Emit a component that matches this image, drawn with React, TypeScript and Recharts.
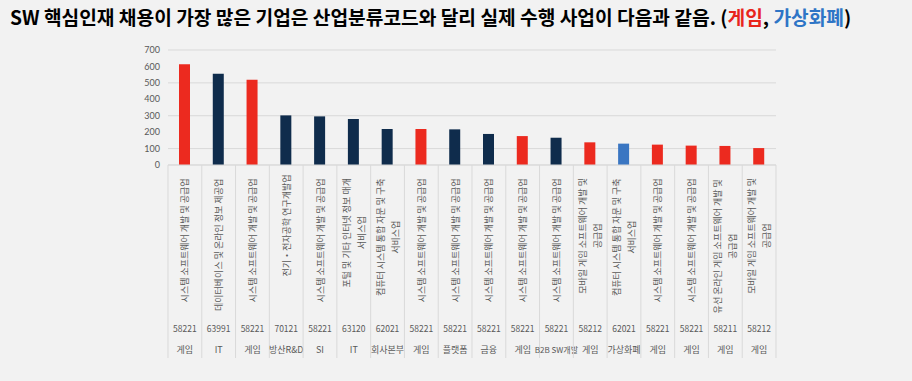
import React from 'react'
import { BarChart, Bar, XAxis, YAxis, CartesianGrid, Cell } from 'recharts'

// 업종명 (줄바꿈은 \n)
const industries = [
  '시스템 소프트웨어 개발 및 공급업',
  '데이터베이스 및 온라인 정보 제공업',
  '시스템 소프트웨어 개발 및 공급업',
  '전기・전자공학 연구개발업',
  '시스템 소프트웨어 개발 및 공급업',
  '포털 및 기타 인터넷 정보 매개\n서비스업',
  '컴퓨터 시스템 통합 자문 및 구축\n서비스업',
  '시스템 소프트웨어 개발 및 공급업',
  '시스템 소프트웨어 개발 및 공급업',
  '시스템 소프트웨어 개발 및 공급업',
  '시스템 소프트웨어 개발 및 공급업',
  '시스템 소프트웨어 개발 및 공급업',
  '모바일 게임 소프트웨어 개발 및\n공급업',
  '컴퓨터 시스템 통합 자문 및 구축\n서비스업',
  '시스템 소프트웨어 개발 및 공급업',
  '시스템 소프트웨어 개발 및 공급업',
  '유선 온라인 게임 소프트웨어 개발 및\n공급업',
  '모바일 게임 소프트웨어 개발 및\n공급업',
]
const codes = [
  '58221', '63991', '58221', '70121', '58221', '63120', '62021', '58221', '58221',
  '58221', '58221', '58221', '58212', '62021', '58221', '58221', '58211', '58212',
]
const sectors = [
  '게임', 'IT', '게임', '방산R&D', 'SI', 'IT', '회사본부', '게임', '플랫폼',
  '금융', '게임', 'B2B SW개발', '게임', '가상화폐', '게임', '게임', '게임', '게임',
]
const hires = [613, 556, 519, 302, 296, 280, 219, 219, 217, 189, 176, 166, 138, 130, 124, 118, 116, 103]
// g = 게임, c = 가상화폐, o = 기타
const kinds = ['g', 'o', 'g', 'o', 'o', 'o', 'o', 'g', 'o', 'o', 'g', 'o', 'g', 'c', 'g', 'g', 'g', 'g']
const yTicks = [0, 100, 200, 300, 400, 500, 600, 700]

const COLORS: Record<string, string> = { g: '#ec2a1f', c: '#3a76c2', o: '#0f2c4c' }
const TEXT = '#595959'
const GRID = '#d9d9d9'

const W = 912
const H = 381
const PLOT_LEFT = 168
const PLOT_RIGHT = 776
const BAND = (PLOT_RIGHT - PLOT_LEFT) / industries.length

const chartData = industries.map((name, i) => ({
  name,
  code: codes[i],
  sector: sectors[i],
  value: hires[i],
  kind: kinds[i],
}))

// 대략적인 글자 폭 추정 (세로 라벨 가운데 정렬용)
function textLen(s: string, fs: number) {
  let w = 0
  for (const c of s) {
    if (/[\uac00-\ud7a3]/.test(c)) w += fs
    else if (c === ' ') w += fs * 0.3
    else w += fs * 0.6
  }
  return w
}

function CategoryTick(props: any) {
  const { x, y, payload } = props
  const i = payload.index
  const lines = industries[i].split('\n')
  const fs = 9
  const gap = 15
  const longest = Math.max(...lines.map(l => textLen(l, fs)))
  const cy = y + 7 + longest / 2
  const left = x - BAND / 2
  const isLast = i === industries.length - 1
  const sector = sectors[i]
  const small = sector.length > 5
  return (
    <g>
      <line x1={left} x2={left} y1={y} y2={y + 193} stroke={GRID} />
      {isLast && <line x1={left + BAND} x2={left + BAND} y1={y} y2={y + 193} stroke={GRID} />}
      {lines.map((line, k) => {
        const lx = x + (k - (lines.length - 1) / 2) * gap
        return (
          <text
            key={k}
            transform={`translate(${lx},${cy}) rotate(-90)`}
            textAnchor="middle"
            dominantBaseline="central"
            fontSize={fs}
            fill={TEXT}
          >
            {line}
          </text>
        )
      })}
      <text x={x} y={y + 163} textAnchor="middle" dominantBaseline="central" fontSize={8.5} fill={TEXT}>
        {codes[i]}
      </text>
      <text
        x={x}
        y={y + 184}
        textAnchor="middle"
        dominantBaseline="central"
        fontSize={small ? 8 : 9}
        fill={TEXT}
      >
        {sector}
      </text>
    </g>
  )
}

export default function App() {
  return (
    <div
      style={{
        position: 'absolute',
        left: 0,
        top: 0,
        width: W,
        height: H,
        background: '#f2f2f2',
        fontFamily: '"Noto Sans CJK KR", "Noto Sans", sans-serif',
        overflow: 'hidden',
      }}
    >
      <div
        style={{
          position: 'absolute',
          left: 10,
          top: 3,
          fontSize: 19.2,
          fontWeight: 'bold',
          color: '#000',
          whiteSpace: 'nowrap',
        }}
      >
        SW 핵심인재 채용이 가장 많은 기업은 산업분류코드와 달리 실제 수행 사업이 다음과 같음. (
        <span style={{ color: '#e8251c' }}>게임</span>, <span style={{ color: '#2e75c6' }}>가상화폐</span>)
      </div>
      <div style={{ position: 'absolute', left: 0, top: 0 }}>
        <BarChart
          width={W}
          height={H}
          data={chartData}
          margin={{ top: 50, right: W - PLOT_RIGHT, bottom: 0, left: 0 }}
          barCategoryGap={0}
        >
          <CartesianGrid vertical={false} stroke={GRID} />
          <XAxis
            dataKey="name"
            interval={0}
            height={H - 165}
            tickSize={0}
            tickMargin={0}
            axisLine={{ stroke: GRID }}
            tick={(p: any) => <CategoryTick {...p} />}
          />
          <YAxis
            width={PLOT_LEFT}
            domain={[0, 700]}
            ticks={yTicks}
            axisLine={false}
            tickLine={false}
            tick={{ fontSize: 9, fill: TEXT, fontFamily: 'Lato, "Noto Sans", sans-serif' }}
          />
          <Bar dataKey="value" barSize={11} isAnimationActive={false}>
            {chartData.map((d, i) => (
              <Cell key={i} fill={COLORS[d.kind]} />
            ))}
          </Bar>
        </BarChart>
      </div>
    </div>
  )
}
